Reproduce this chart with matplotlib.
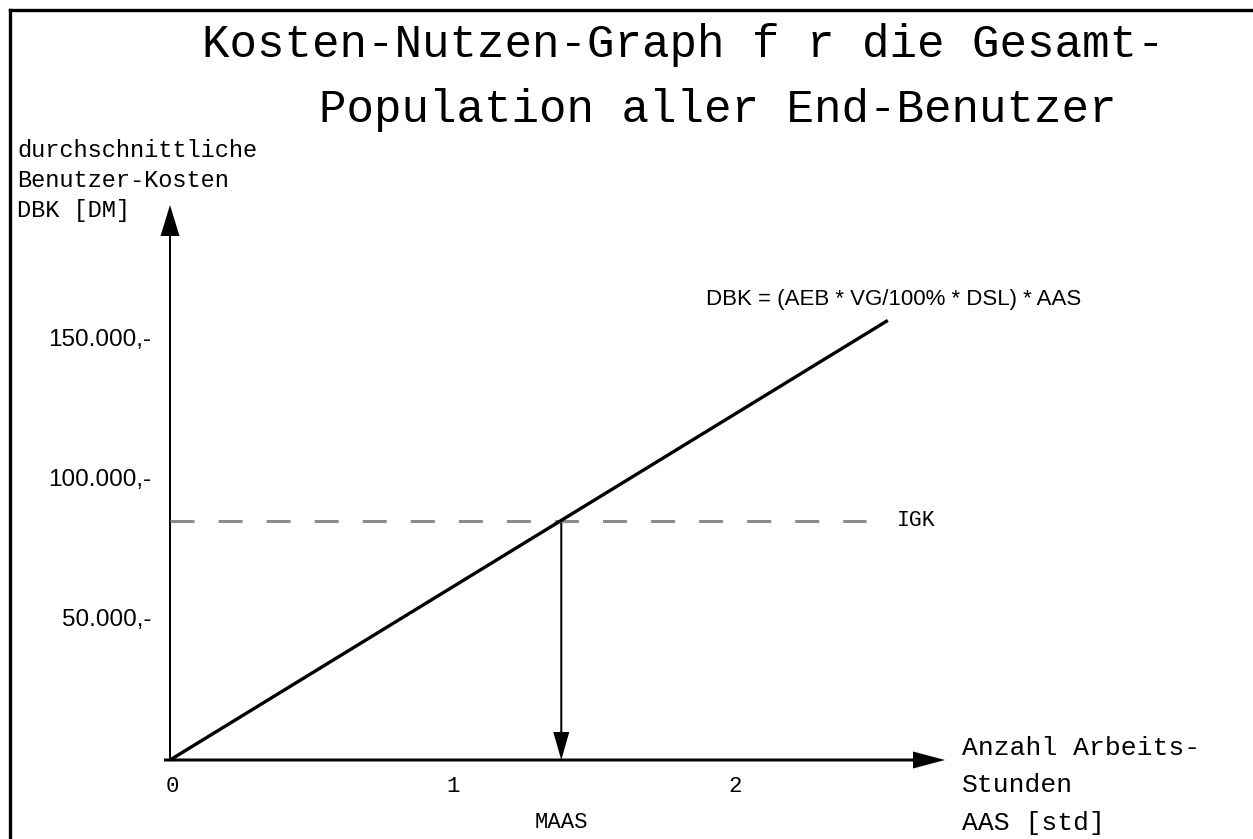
import matplotlib
matplotlib.use('Agg')
import matplotlib.pyplot as plt
from matplotlib.lines import Line2D

plt.rcParams['lines.scale_dashes'] = False

MONO = 'Liberation Mono'
SANS = 'Liberation Sans'

# data
aas = [0.0, 2.55]            # Arbeitsstunden
dbk = [0.0, 157000.0]        # durchschnittliche Benutzer-Kosten
igk = 85400.0
maas = 1.39
x_ticks = [0, 1, 2]
x_ticklabels = ['0', '1', '2']
y_ticks = [50000, 100000, 150000]
y_ticklabels = ['50.000,-', '100.000,-', '150.000,-']

title_lines = ['Kosten-Nutzen-Graph f r die Gesamt-', 'Population aller End-Benutzer']
ylabel_lines = ['durchschnittliche', 'Benutzer-Kosten', 'DBK [DM]']
xlabel_lines = ['Anzahl Arbeits-', 'Stunden', 'AAS [std]']
formula = 'DBK = (AEB * VG/100% * DSL) * AAS'

W, H = 1253, 839
X0, Y0 = 170, 760            # origin in pixels (from top-left)
PXH = 281.5                  # pixels per hour
PXD = 0.0028                 # pixels per DM


def px_x(p):
    return (p - X0) / PXH


def px_y(p):
    return (Y0 - p) / PXD


fig = plt.figure(figsize=(W / 100, H / 100), dpi=100)
ax = fig.add_axes([0, 0, 1, 1])
ax.set_xlim(px_x(0), px_x(W))
ax.set_ylim(px_y(H), px_y(0))
ax.axis('off')

# frame (only top and left visible)
fig.add_artist(Line2D([9.5 / W, 1.0], [1 - 9.5 / H, 1 - 9.5 / H], color='black', lw=2.4,
                      solid_capstyle='projecting', transform=fig.transFigure))
fig.add_artist(Line2D([9.5 / W, 9.5 / W], [0, 1 - 9.5 / H], color='black', lw=2.4,
                      solid_capstyle='projecting', transform=fig.transFigure))

# axes arrows
ax.arrow(px_x(164), 0, px_x(945) - px_x(164), 0, width=3 / PXD, head_width=17 / PXD,
         head_length=32 / PXH, length_includes_head=True, color='black', lw=0)
ax.arrow(0, 0, 0, px_y(205), width=2 / PXH, head_width=19 / PXH,
         head_length=31 / PXD, length_includes_head=True, color='black', lw=0)

# IGK dashed line
ax.plot([0, px_x(866)], [igk, igk], color='#8c8c8c', lw=2.2, dashes=(17.3, 17.3))
ax.text(px_x(897), igk, 'IGK', family=MONO, fontsize=15.5, ha='left', va='center')

# cost line
ax.plot(aas, dbk, color='black', lw=2.4, solid_capstyle='butt')
ax.text(px_x(706), px_y(299), formula, family=SANS, fontsize=16, ha='left', va='center')

# MAAS arrow
ax.arrow(maas, igk, 0, -igk, width=2 / PXH, head_width=16 / PXH,
         head_length=28 / PXD, length_includes_head=True, color='black', lw=0)
ax.text(maas, px_y(822), 'MAAS', family=MONO, fontsize=16, ha='center', va='center')

# tick labels
for t, lab in zip(x_ticks, x_ticklabels):
    ax.text(t + 2 / PXH, px_y(787), lab, family=MONO, fontsize=16, ha='center', va='center')
for t, lab in zip(y_ticks, y_ticklabels):
    ax.text(px_x(151), t, lab, family=SANS, fontsize=17.5, ha='right', va='center')

# title
fig.text(683 / W, 1 - 57 / H, title_lines[0], family=MONO, fontsize=33, ha='center', va='baseline')
fig.text(718 / W, 1 - 122 / H, title_lines[1], family=MONO, fontsize=33, ha='center', va='baseline')

# axis labels
for i, line in enumerate(ylabel_lines):
    ax.text(px_x(17), px_y(157 + 30 * i), line, family=MONO, fontsize=17, ha='left', va='baseline')
for i, line in enumerate(xlabel_lines):
    ax.text(px_x(962), px_y(755 + 37.5 * i), line, family=MONO, fontsize=19, ha='left', va='baseline')

fig.savefig('out.png', dpi=100)
